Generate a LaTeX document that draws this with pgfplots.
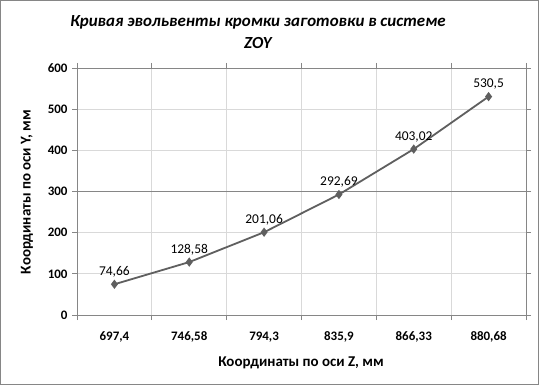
\documentclass[border=0pt]{standalone}
\usepackage{pgfplots}
\pgfplotsset{compat=1.18}
\usepackage{pgfplotstable}
\usepackage{fontspec}
\setmainfont{Carlito}
\definecolor{lineC}{HTML}{5F5F5F}
\definecolor{gridC}{HTML}{D9D9D9}
\definecolor{axC}{HTML}{868686}
\pgfplotstableread{
x y label
0.5 74.66 74,66
1.5 128.58 128,58
2.5 201.06 201,06
3.5 292.69 292,69
4.5 403.02 403,02
5.5 530.5 530,5
}\datatab
\begin{document}
\begin{tikzpicture}[x=1bp,y=1bp]
\useasboundingbox (0,0) rectangle (539,385);
\fill[white] (0,0) rectangle (539,385);
\draw[axC,line width=0.8bp] (0.5,0.5) rectangle (538.5,384.5);
\begin{axis}[
  at={(77bp,70bp)}, anchor=south west,
  scale only axis, width=449bp, height=247bp,
  xmin=0, xmax=6, ymin=0, ymax=600,
  xtick={0.5,1.5,2.5,3.5,4.5,5.5},
  xticklabels={{697,4},{746,58},{794,3},{835,9},{866,33},{880,68}},
  x tick style={draw=none},
  minor xtick={0,1,2,3,4,5,6},
  minor x tick style={draw=axC, line width=0.8bp},
  minor tick length=5bp,
  xminorgrids, minor grid style={gridC, line width=0.8bp},
  ytick={0,100,...,600},
  ymajorgrids, major grid style={gridC, line width=0.8bp},
  extra y ticks={300}, extra y tick labels={},
  extra y tick style={grid=major, major grid style={axC, line width=0.8bp}, tick style={draw=none}},
  y tick style={draw=axC, line width=0.8bp},
  major tick length=5bp,
  tick align=outside,
  axis line style={draw=axC, line width=0.8bp},
  /pgf/number format/assume math mode=true,
  ticklabel style={font=\bfseries\fontsize{13}{15}\selectfont, text=black},
  xticklabel style={yshift=-8bp},
  yticklabel style={xshift=-1bp},
  nodes near coords, point meta=explicit symbolic,
  nodes near coords style={font=\fontsize{13.5}{15}\selectfont, text=black, anchor=south, yshift=3bp},
  clip=false,
]
\addplot[lineC, line width=1.8bp, mark=diamond*, mark size=3.2bp, mark options={fill=lineC, draw=lineC}]
  table[x=x, y=y, meta=label] {\datatab};
\end{axis}
\node[font=\bfseries\itshape\fontsize{17}{22}\selectfont, align=center] at (258,353) {Кривая эвольвенты кромки заготовки в системе\\ZOY};
\node[font=\bfseries\fontsize{15}{17}\selectfont] at (301,22) {Координаты по оси Z, мм};
\node[font=\bfseries\fontsize{15}{17}\selectfont, rotate=90] at (27,193) {Координаты по оси Y, мм};
\end{tikzpicture}
\end{document}
